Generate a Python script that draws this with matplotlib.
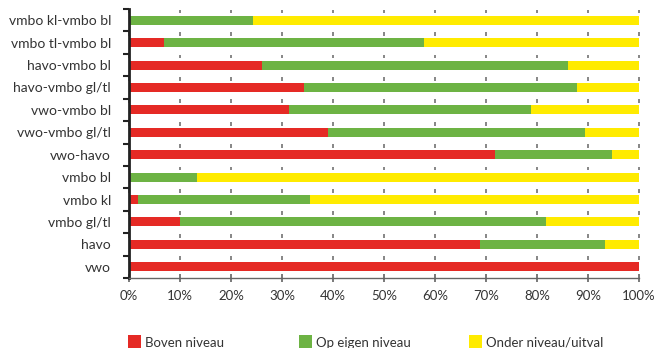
import matplotlib.pyplot as plt
import numpy as np
from matplotlib.patches import Patch

plt.rcParams['font.family'] = ['Lato', 'DejaVu Sans']

# Categories, top to bottom
categories = ['vmbo kl-vmbo bl', 'vmbo tl-vmbo bl', 'havo-vmbo bl', 'havo-vmbo gl/tl',
              'vwo-vmbo bl', 'vwo-vmbo gl/tl', 'vwo-havo', 'vmbo bl', 'vmbo kl',
              'vmbo gl/tl', 'havo', 'vwo']

# Shares in percent
boven = [0, 6.9, 26.1, 34.3, 31.4, 39.0, 71.8, 0, 1.8, 10.0, 68.8, 100]
eigen = [24.3, 50.9, 60.0, 53.5, 47.4, 50.4, 22.9, 13.3, 33.7, 71.8, 24.5, 0]
onder = [75.7, 42.2, 13.9, 12.2, 21.2, 10.6, 5.3, 86.7, 64.5, 18.2, 6.7, 0]

series_labels = ['Boven niveau', 'Op eigen niveau', 'Onder niveau/uitval']
colors = ['#e52a25', '#6db344', '#ffeb00']

x_ticks = np.arange(0, 101, 10)
x_ticklabels = [f'{t}%' for t in x_ticks]

fig = plt.figure(figsize=(6.62, 3.48), dpi=100)
ax = fig.add_axes([129 / 662, 1 - 278 / 348, 510 / 662, 269 / 348])

y = np.arange(len(categories))
left = np.zeros(len(categories))
for vals, col in zip([boven, eigen, onder], colors):
    ax.barh(y, vals, left=left, height=0.4, color=col, edgecolor='none', zorder=2)
    left = left + np.array(vals)

ax.set_ylim(len(categories) - 0.5, -0.5)
ax.set_xlim(0, 100)

# short tick dashes at every row boundary
bounds = np.arange(-0.5, len(categories) - 0.5, 1.0)
for b in bounds:
    ax.vlines(x_ticks, b + 0.03, b + 0.2, color='#666666', lw=1.1, zorder=1, clip_on=False)

ax.set_yticks(y)
ax.set_yticklabels(categories, fontsize=10, color='#333333')
ax.set_yticks(np.arange(-0.5, len(categories)), minor=True)
ax.tick_params(axis='y', which='major', length=0, pad=13)
ax.tick_params(axis='y', which='minor', length=4, width=1.5, color='#222222', direction='out')

ax.set_xticks(x_ticks)
ax.set_xticklabels(x_ticklabels, fontsize=9.5, color='#333333')
ax.tick_params(axis='x', which='major', length=6, width=1.1, color='#555555',
               direction='inout', pad=6)

for s in ['top', 'right']:
    ax.spines[s].set_visible(False)
ax.spines['left'].set_color('#222222')
ax.spines['left'].set_linewidth(2)
ax.spines['bottom'].set_color('#666666')
ax.spines['bottom'].set_linewidth(1)

# legend, one entry per column position
legend_x = [116, 287, 457]
for lab, col, lx in zip(series_labels, colors, legend_x):
    fig.legend(handles=[Patch(facecolor=col, edgecolor='none')], labels=[lab],
               loc='lower left', bbox_to_anchor=(lx / 662, -0.04), frameon=False,
               handlelength=1.0, handleheight=1.4, handletextpad=0.3,
               prop={'size': 9.5}, labelcolor='#333333')

fig.savefig('out.png', dpi=100)
